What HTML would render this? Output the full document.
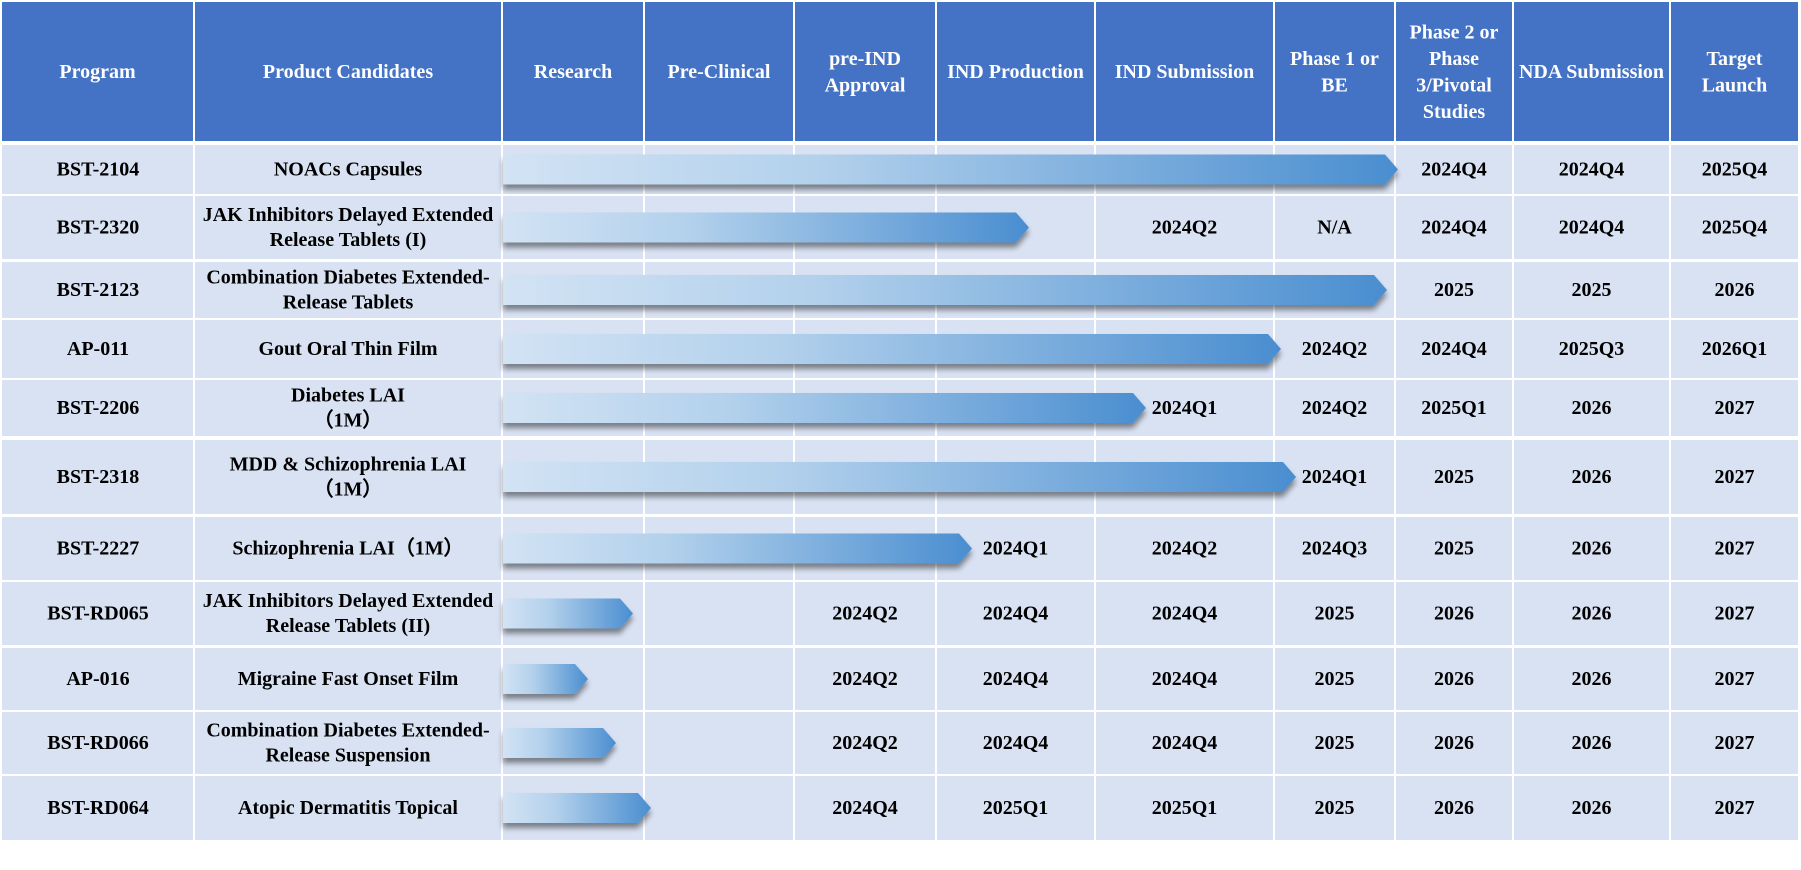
<!DOCTYPE html>
<html><head><meta charset="utf-8"><style>
html,body{margin:0;padding:0;background:#fff;}
svg{display:block;}
text{font-family:"Liberation Serif",serif;font-weight:bold;font-size:20px;}
</style></head><body>
<svg width="1801" height="870" viewBox="0 0 1801 870" xmlns="http://www.w3.org/2000/svg">
<defs>
<linearGradient id="g" x1="0" x2="1" y1="0" y2="0">
<stop offset="0" stop-color="#D2E3F4"/>
<stop offset="0.35" stop-color="#B3D1EC"/>
<stop offset="1" stop-color="#4A8ED0"/>
</linearGradient>
<filter id="sh" x="-5%" y="-30%" width="110%" height="200%">
<feGaussianBlur in="SourceAlpha" stdDeviation="3"/>
<feOffset dx="0" dy="5" result="b"/>
<feComponentTransfer><feFuncA type="linear" slope="0.45"/></feComponentTransfer>
<feMerge><feMergeNode/><feMergeNode in="SourceGraphic"/></feMerge>
</filter>
</defs>
<g id="cells"></g>
<g id="arrows"></g>
<g id="txt"></g>
</svg>
<script>
const NS="http://www.w3.org/2000/svg";
const cx=[2,194,502,644,794,936,1095,1274,1395,1513,1670,1799];
const rows=[[145,194],[196,259],[262,318],[320,378],[380,436],[440,514],[517,580],[582,645],[648,710],[712,774],[776,840]];
const cells=document.getElementById('cells'),txt=document.getElementById('txt'),arr=document.getElementById('arrows');
function rect(x,y,w,h,f){const r=document.createElementNS(NS,'rect');r.setAttribute('x',x);r.setAttribute('y',y);r.setAttribute('width',w);r.setAttribute('height',h);r.setAttribute('fill',f);cells.appendChild(r);}
function t(x,y,s,c){const e=document.createElementNS(NS,'text');e.setAttribute('x',x);e.setAttribute('y',y);e.setAttribute('text-anchor','middle');e.setAttribute('fill',c);e.textContent=s;txt.appendChild(e);}
const heads=[["Program"],["Product Candidates"],["Research"],["Pre-Clinical"],["pre-IND","Approval"],["IND Production"],["IND Submission"],["Phase 1 or","BE"],["Phase 2 or","Phase","3/Pivotal","Studies"],["NDA Submission"],["Target","Launch"]];
for(let c=0;c<11;c++){
 const x0=cx[c]+(c?1:0),x1=cx[c+1]-1;
 rect(x0,2,x1-x0,139,'#4472C4');
 const L=heads[c],mid=(x0+x1)/2,lh=26.5,top=71-(L.length-1)*lh/2;
 L.forEach((s,i)=>t(mid,top+i*lh+7,s,'#fff'));
 rows.forEach(r=>rect(x0,r[0],x1-x0,r[1]-r[0],'#D9E2F3'));
}
const data=[
[["BST-2104"],["NOACs Capsules"],1398,{8:"2024Q4",9:"2024Q4",10:"2025Q4"}],
[["BST-2320"],["JAK Inhibitors Delayed Extended","Release  Tablets (I)"],1029,{6:"2024Q2",7:"N/A",8:"2024Q4",9:"2024Q4",10:"2025Q4"}],
[["BST-2123"],["Combination Diabetes Extended-","Release Tablets"],1387,{8:"2025",9:"2025",10:"2026"}],
[["AP-011"],["Gout Oral Thin Film"],1281,{7:"2024Q2",8:"2024Q4",9:"2025Q3",10:"2026Q1"}],
[["BST-2206"],["Diabetes LAI","（1M）"],1146,{6:"2024Q1",7:"2024Q2",8:"2025Q1",9:"2026",10:"2027"}],
[["BST-2318"],["MDD & Schizophrenia LAI","（1M）"],1296,{7:"2024Q1",8:"2025",9:"2026",10:"2027"}],
[["BST-2227"],["Schizophrenia LAI（1M）"],972,{5:"2024Q1",6:"2024Q2",7:"2024Q3",8:"2025",9:"2026",10:"2027"}],
[["BST-RD065"],["JAK Inhibitors Delayed Extended","Release  Tablets (II)"],633,{4:"2024Q2",5:"2024Q4",6:"2024Q4",7:"2025",8:"2026",9:"2026",10:"2027"}],
[["AP-016"],["Migraine Fast Onset Film"],588,{4:"2024Q2",5:"2024Q4",6:"2024Q4",7:"2025",8:"2026",9:"2026",10:"2027"}],
[["BST-RD066"],["Combination Diabetes Extended-","Release Suspension"],616,{4:"2024Q2",5:"2024Q4",6:"2024Q4",7:"2025",8:"2026",9:"2026",10:"2027"}],
[["BST-RD064"],["Atopic Dermatitis Topical"],651,{4:"2024Q4",5:"2025Q1",6:"2025Q1",7:"2025",8:"2026",9:"2026",10:"2027"}]
];
data.forEach((d,i)=>{
 const [a,b]=rows[i],cy=(a+b)/2-1;
 const put=(c,L)=>{const mid=(cx[c]+cx[c+1])/2,lh=25,top=cy-(L.length-1)*lh/2;L.forEach((s,k)=>t(mid,top+k*lh+7,s,'#000'));};
 put(0,d[0]);put(1,d[1]);
 for(const k in d[3]){put(+k,[d[3][k]]);}
 const tip=d[2],h=30,y0=cy-h/2+1,x0=503,dep=13;
 const p=document.createElementNS(NS,'path');
 p.setAttribute('d',`M${x0},${y0} L${tip-dep},${y0} L${tip},${y0+h/2} L${tip-dep},${y0+h} L${x0},${y0+h} Z`);
 p.setAttribute('fill','url(#g)');p.setAttribute('filter','url(#sh)');
 arr.appendChild(p);
});
</script>
</body></html>
